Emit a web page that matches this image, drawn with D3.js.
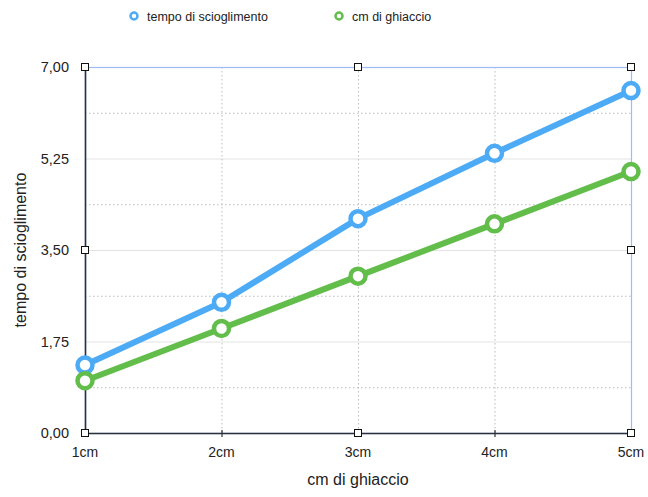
<!DOCTYPE html>
<html>
<head>
<meta charset="utf-8">
<script src="https://cdn.jsdelivr.net/npm/d3@7"></script>
<style>
  html, body { margin: 0; padding: 0; background: #fff; }
  svg { display: block; font-family: "Liberation Sans", Arial, Helvetica, sans-serif; }
</style>
</head>
<body>
<svg id="chart" width="648" height="497"></svg>
<script>
// Data
const categories = ["1cm", "2cm", "3cm", "4cm", "5cm"];
const tempo = [1.3, 2.5, 4.1, 5.35, 6.55];
const ghiaccio = [1, 2, 3, 4, 5];
const yTicks = [0, 1.75, 3.5, 5.25, 7];
const yMinor = [0.875, 2.625, 4.375, 6.125];
const seriesNames = ["tempo di scioglimento", "cm di ghiaccio"];
const seriesColors = ["#4dabf5", "#62bd4b"];

const svg = d3.select("#chart");
const margin = { left: 85, right: 17, top: 67, bottom: 64 };
const W = 648, H = 497;

const x = d3.scalePoint().domain(categories).range([margin.left, W - margin.right]);
const y = d3.scaleLinear().domain([0, 7]).range([H - margin.bottom, margin.top]);

const x0 = margin.left, x1 = W - margin.right, y0 = H - margin.bottom, y1 = margin.top;

// Minor (dotted) horizontal grid
svg.append("g").selectAll("line").data(yMinor).join("line")
  .attr("x1", x0).attr("x2", x1)
  .attr("y1", d => y(d) + 0.5).attr("y2", d => y(d) + 0.5)
  .attr("stroke", "#bdbdbd").attr("stroke-width", 1).attr("stroke-dasharray", "1.5,2.5");

// Major (solid) horizontal grid
svg.append("g").selectAll("line").data(yTicks.filter(d => d > 0 && d < 7)).join("line")
  .attr("x1", x0).attr("x2", x1)
  .attr("y1", d => y(d) + 0.5).attr("y2", d => y(d) + 0.5)
  .attr("stroke", "#e3e3e3").attr("stroke-width", 1);

// Vertical dotted grid
svg.append("g").selectAll("line").data(categories.slice(1)).join("line")
  .attr("x1", d => x(d) + 0.5).attr("x2", d => x(d) + 0.5)
  .attr("y1", y1).attr("y2", y0)
  .attr("stroke", "#bdbdbd").attr("stroke-width", 1).attr("stroke-dasharray", "1.5,2.5");

// Selection frame
svg.append("rect")
  .attr("x", x0 + 0.5).attr("y", y1 + 0.5)
  .attr("width", x1 - x0).attr("height", y0 - y1)
  .attr("fill", "none").attr("stroke", "#9dbcf7").attr("stroke-width", 1.2);

// Axes lines
svg.append("line").attr("x1", x0 + 0.5).attr("x2", x0 + 0.5).attr("y1", y1).attr("y2", y0)
  .attr("stroke", "#2b2f3a").attr("stroke-width", 1.6);
svg.append("line").attr("x1", x0).attr("x2", x1).attr("y1", y0 + 0.5).attr("y2", y0 + 0.5)
  .attr("stroke", "#2b2f3a").attr("stroke-width", 1.6);

// X tick marks
svg.append("g").selectAll("line").data(categories.slice(1, -1)).join("line")
  .attr("x1", d => x(d) + 0.5).attr("x2", d => x(d) + 0.5)
  .attr("y1", y0 - 3).attr("y2", y0 + 4)
  .attr("stroke", "#2b2f3a").attr("stroke-width", 1.2);

// Y tick labels
svg.append("g").selectAll("text").data(yTicks).join("text")
  .attr("x", 69).attr("y", d => y(d) + 5)
  .attr("text-anchor", "end").attr("font-size", 14.5).attr("fill", "#222")
  .text(d => d3.format(".2f")(d).replace(".", ","));

// X tick labels
svg.append("g").selectAll("text").data(categories).join("text")
  .attr("x", d => x(d)).attr("y", y0 + 24)
  .attr("text-anchor", "middle").attr("font-size", 14).attr("fill", "#222")
  .text(d => d);

// Axis titles
svg.append("text").attr("x", (x0 + x1) / 2).attr("y", 485)
  .attr("text-anchor", "middle").attr("font-size", 16).attr("fill", "#222")
  .text("cm di ghiaccio");
svg.append("text")
  .attr("transform", `translate(26,${(y0 + y1) / 2}) rotate(-90)`)
  .attr("text-anchor", "middle").attr("font-size", 16).attr("fill", "#222")
  .text("tempo di scioglimento");

// Series
const line = d3.line().x((d, i) => x(categories[i])).y(d => y(d));
[tempo, ghiaccio].forEach((vals, k) => {
  const g = svg.append("g");
  g.append("path").datum(vals).attr("d", line)
    .attr("fill", "none").attr("stroke", seriesColors[k]).attr("stroke-width", 6)
    .attr("stroke-linejoin", "round");
  g.selectAll("circle").data(vals).join("circle")
    .attr("cx", (d, i) => x(categories[i])).attr("cy", d => y(d))
    .attr("r", 7.5).attr("fill", "#fff")
    .attr("stroke", seriesColors[k]).attr("stroke-width", 4.5);
});

// Selection handles
const handles = [
  [x0, y1], [(x0 + x1) / 2, y1], [x1, y1],
  [x0, (y0 + y1) / 2], [x1, (y0 + y1) / 2],
  [x0, y0], [(x0 + x1) / 2, y0], [x1, y0]
];
svg.append("g").selectAll("rect").data(handles).join("rect")
  .attr("x", d => Math.round(d[0]) - 3.5).attr("y", d => Math.round(d[1]) - 3.5)
  .attr("width", 7).attr("height", 7)
  .attr("fill", "#fff").attr("stroke", "#111").attr("stroke-width", 1);

// Legend
const legendX = [134, 339];
const lg = svg.append("g");
seriesNames.forEach((name, k) => {
  lg.append("circle").attr("cx", legendX[k]).attr("cy", 16).attr("r", 3.5)
    .attr("fill", "#fff").attr("stroke", seriesColors[k]).attr("stroke-width", 2.5);
  lg.append("text").attr("x", legendX[k] + 13).attr("y", 21)
    .attr("font-size", 12.5).attr("fill", "#222").text(name);
});
</script>
</body>
</html>
